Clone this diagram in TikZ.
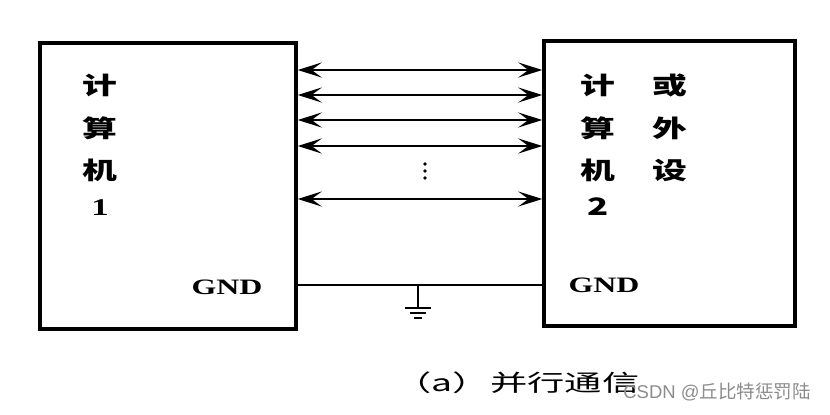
\documentclass[tikz,border=0pt]{standalone}
\usepackage{graphicx}
\usepackage{fontspec}
\setmainfont{Liberation Serif}
\newfontfamily\cjk{Noto Sans CJK SC}
\newfontfamily\wmfont{Liberation Sans}
\usetikzlibrary{arrows.meta,calc}
\tikzset{
  box/.style={draw=black, line width=3.4pt, inner sep=0pt, minimum width=#1},
  bus/.style={line width=2.6pt, >={Stealth[length=24pt,width=15pt,inset=10pt]}, <->},
  gndline/.style={line width=2pt},
  cjklabel/.style={inner sep=0pt, font=\cjk\bfseries\fontsize{24}{24}\selectfont},
  numlabel/.style={inner sep=0pt, font=\bfseries\fontsize{24}{24}\selectfont},
  gndlabel/.style={inner sep=0pt, font=\bfseries\fontsize{22}{22}\selectfont},
  caption/.style={inner sep=0pt, font=\cjk\fontsize{23}{23}\selectfont},
  watermark/.style={inner sep=0pt, text=black!45, font=\wmfont\fontsize{18.5}{18.5}\selectfont}
}
\newcommand{\wide}[2][1.45]{\scalebox{#1}[1]{#2}}
\begin{document}
\begin{tikzpicture}[x=1pt,y=-1pt]
\useasboundingbox (0,0) rectangle (830,415);
\fill[white] (0,0) rectangle (830,415);
% boxes
\node[box=256pt, minimum height=286pt] (c1) at (168,186) {};
\node[box=251pt, minimum height=285pt] (c2) at (669.5,183.5) {};
% buses
\foreach \y/\n in {70/a,95/b,120/c,146/d,199/e}{
  \coordinate (l\n) at (c1.east |- 0,\y);
  \coordinate (r\n) at (c2.west |- 0,\y);
  \draw[bus] (l\n) -- (r\n);
}
% vertical dots
\foreach \y in {164,171,178}{
  \fill (425,\y) circle[radius=1.8pt];
}
% ground line
\coordinate (lg) at (c1.east |- 0,285);
\coordinate (rg) at (c2.west |- 0,285);
\draw[gndline] (lg) -- (rg);
\coordinate (g) at (418,285);
\coordinate (g1) at (418,308);
\draw[gndline] (g) -- (g1);
\draw[line width=2.4pt] ($(g1)+(-13,0)$) -- ($(g1)+(13,0)$);
\draw[line width=2.2pt] ($(g1)+(-8,5)$) -- ($(g1)+(8,5)$);
\draw[line width=2pt] ($(g1)+(-4,10)$) -- ($(g1)+(4,10)$);
% labels left
\node[cjklabel] (t1) at (100,85) {\wide{计}};
\node[cjklabel] (t2) at (100,128) {\wide{算}};
\node[cjklabel] (t3) at (100,170) {\wide{机}};
\node[numlabel] (t4) at (100,208) {\wide{1}};
% labels right
\node[cjklabel] (u1) at (598,85) {\wide{计}};
\node[cjklabel] (u2) at (598,128) {\wide{算}};
\node[cjklabel] (u3) at (598,170) {\wide{机}};
\node[cjklabel] (u4) at (598,207) {\wide{2}};
\node[cjklabel] (v1) at (670,85) {\wide{或}};
\node[cjklabel] (v2) at (670,128) {\wide{外}};
\node[cjklabel] (v3) at (670,170) {\wide{设}};
% GND
\node[gndlabel] (gl) at (227,287) {\wide{GND}};
\node[gndlabel] (gr) at (604,285) {\wide{GND}};
% caption
\node[caption] (cap) at (517,383) {\wide[1.62]{（a）并行通信}};
\node[watermark] (wm) at (717,392) {CSDN @\cjk 丘比特惩罚陆};
\end{tikzpicture}
\end{document}
